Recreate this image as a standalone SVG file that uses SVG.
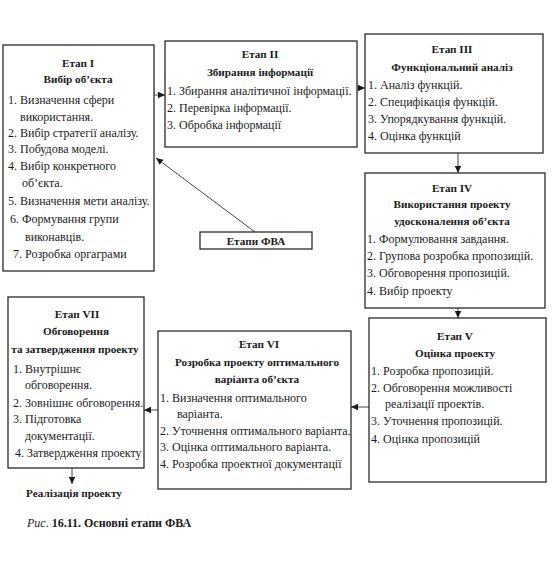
<svg xmlns="http://www.w3.org/2000/svg" width="553" height="586" viewBox="0 0 553 586">
<style>
.box{fill:#fff;stroke:#2a2a2a;stroke-width:1.3}
text{font-family:"Liberation Serif","DejaVu Serif",serif;font-size:12px;fill:#1a1a1a}
.t{font-weight:bold;text-anchor:middle;font-size:11.2px}
.c{stroke:#444;stroke-width:1;fill:none}
</style>
<defs>
<marker id="ah" markerWidth="8" markerHeight="8" refX="7" refY="4" orient="auto" markerUnits="userSpaceOnUse">
<path d="M0,0.8 L7,4 L0,7.2 Z" fill="#1a1a1a"/>
</marker>
</defs>
<rect width="553" height="586" fill="#fff"/>
<g id="connectors">
<line class="c" x1="154" y1="95" x2="165" y2="95" marker-end="url(#ah)"/>
<line class="c" x1="357" y1="88" x2="365" y2="88" marker-end="url(#ah)"/>
<line class="c" x1="458" y1="153" x2="458" y2="173" marker-end="url(#ah)"/>
<line class="c" x1="458" y1="308" x2="458" y2="318" marker-end="url(#ah)"/>
<line class="c" x1="369" y1="407" x2="351" y2="407" marker-end="url(#ah)"/>
<line class="c" x1="158" y1="410" x2="144" y2="410" marker-end="url(#ah)"/>
<line class="c" x1="72" y1="468" x2="72" y2="484" marker-end="url(#ah)"/>
<line class="c" x1="255" y1="232" x2="156" y2="158" marker-end="url(#ah)"/>
</g>
<g id="stage1">
<rect class="box" x="3" y="45" width="151" height="226"/>
<text class="t" x="78" y="67">Етап I</text>
<text class="t" x="78" y="83">Вибір об’єкта</text>
<text x="8" y="104">1. Визначення сфери</text>
<text x="20" y="121">використання.</text>
<text x="8" y="137">2. Вибір стратегії аналізу.</text>
<text x="8" y="153">3. Побудова моделі.</text>
<text x="8" y="170">4. Вибір конкретного</text>
<text x="22" y="187">об’єкта.</text>
<text x="8" y="205">5. Визначення мети аналізу.</text>
<text x="10" y="223">6. Формування групи</text>
<text x="25" y="241">виконавців.</text>
<text x="13" y="258">7. Розробка оргаграми</text>
</g>
<g id="stage2">
<rect class="box" x="165" y="41" width="192" height="106"/>
<text class="t" x="260" y="58">Етап II</text>
<text class="t" x="260" y="76">Збирання інформації</text>
<text x="167" y="95">1. Збирання аналітичної інформації.</text>
<text x="167" y="112">2. Перевірка інформації.</text>
<text x="167" y="129">3. Обробка інформації</text>
</g>
<g id="stage3">
<rect class="box" x="365" y="34" width="178" height="119"/>
<text class="t" x="452" y="53">Етап III</text>
<text class="t" x="452" y="71">Функціональний аналіз</text>
<text x="368" y="89">1. Аналіз функцій.</text>
<text x="368" y="106">2. Специфікація функцій.</text>
<text x="368" y="123">3. Упорядкування функцій.</text>
<text x="368" y="140">4. Оцінка функцій</text>
</g>
<g id="stage4">
<rect class="box" x="365" y="173" width="180" height="135"/>
<text class="t" x="452" y="192">Етап IV</text>
<text class="t" x="452" y="208">Використання проекту</text>
<text class="t" x="452" y="225">удосконалення об’єкта</text>
<text x="367" y="243">1. Формулювання завдання.</text>
<text x="367" y="260">2. Групова розробка пропозицій.</text>
<text x="367" y="277">3. Обговорення пропозицій.</text>
<text x="367" y="295">4. Вибір проекту</text>
</g>
<g id="stage5">
<rect class="box" x="369" y="318" width="177" height="164"/>
<text class="t" x="455" y="340">Етап V</text>
<text class="t" x="455" y="357">Оцінка проекту</text>
<text x="371" y="375">1. Розробка пропозицій.</text>
<text x="371" y="392">2. Обговорення можливості</text>
<text x="385" y="408">реалізації проектів.</text>
<text x="371" y="425">3. Уточнення пропозицій.</text>
<text x="371" y="443">4. Оцінка пропозицій</text>
</g>
<g id="stage6">
<rect class="box" x="158" y="331" width="193" height="158"/>
<text class="t" x="259" y="348">Етап VI</text>
<text class="t" x="257" y="366">Розробка проекту оптимального</text>
<text class="t" x="257" y="383">варіанта об’єкта</text>
<text x="160" y="402">1. Визначення оптимального</text>
<text x="177" y="418">варіанта.</text>
<text x="160" y="435">2. Уточнення оптимального варіанта.</text>
<text x="160" y="451">3. Оцінка оптимального варіанта.</text>
<text x="160" y="468">4. Розробка проектної документації</text>
</g>
<g id="stage7">
<rect class="box" x="8" y="297" width="136" height="171"/>
<text class="t" x="77" y="318">Етап VII</text>
<text class="t" x="76" y="335">Обговорення</text>
<text class="t" x="75" y="353">та затвердження проекту</text>
<text x="13" y="373">1. Внутрішнє</text>
<text x="25" y="389">обговорення.</text>
<text x="13" y="407">2. Зовнішнє обговорення.</text>
<text x="13" y="423">3. Підготовка</text>
<text x="25" y="440">документації.</text>
<text x="15" y="457">4. Затвердження проекту</text>
</g>
<g id="fva">
<rect class="box" x="200" y="232" width="112" height="17"/>
<text class="t" x="256" y="245" font-size="12">Етапи ФВА</text>
</g>
<g id="result">
<text class="t" x="74" y="497" font-size="12">Реалізація проекту</text>
</g>
<text x="27" y="527" font-size="13"><tspan font-style="italic">Рис</tspan>. <tspan font-weight="bold">16.11. Основні етапи ФВА</tspan></text>
</svg>
